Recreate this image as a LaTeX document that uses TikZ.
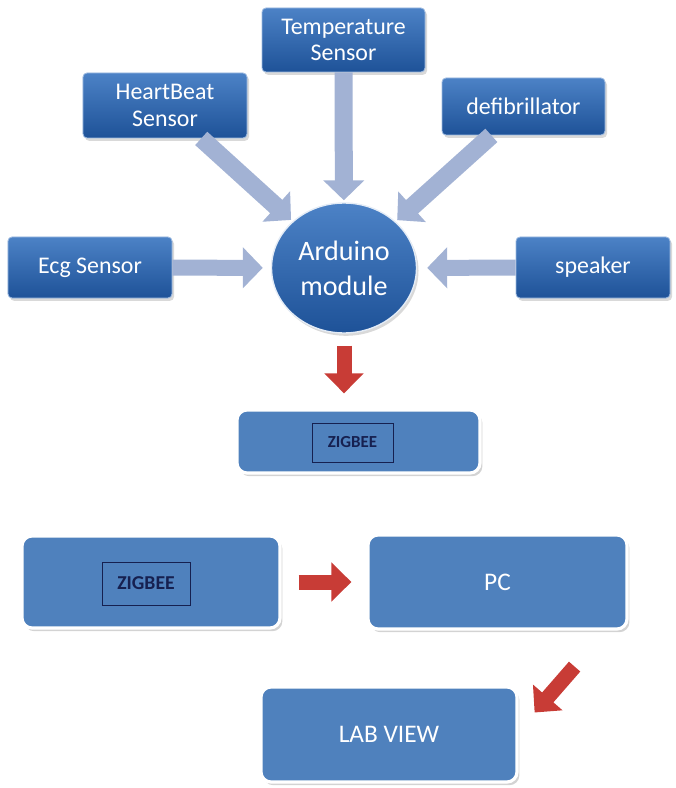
\documentclass[tikz,border=0pt]{standalone}
\usepackage{fontspec}
\setmainfont{Carlito}
\usetikzlibrary{arrows.meta,shapes.geometric,shadows}
\definecolor{boxtop}{RGB}{76,130,198}
\definecolor{boxbot}{RGB}{30,82,152}
\definecolor{flatblue}{RGB}{79,129,189}
\definecolor{arrowgray}{RGB}{162,178,212}
\definecolor{arrowred}{RGB}{200,60,54}
\definecolor{zigtext}{RGB}{22,32,80}

\begin{document}
\begin{tikzpicture}[x=0.25mm,y=-0.25mm]
\useasboundingbox (0,0) rectangle (676,788);

\begin{scope}[every node/.style={rectangle,rounded corners=1mm,top color=boxtop,bottom color=boxbot,
              draw=boxtop!55!white,line width=0.6pt,
              drop shadow={shadow xshift=0.5mm,shadow yshift=-0.7mm,opacity=0.3},
              text=white,align=center,font=\fontsize{17}{19}\selectfont}]
    \node (T)[minimum width=40.75mm,minimum height=16mm] at (343.5,40) {Temperature\\Sensor};
    \node (H)[minimum width=41mm,minimum height=16.25mm] at (165,105.5) {HeartBeat\\Sensor};
    \node (D)[minimum width=40.75mm,minimum height=14.25mm] at (523.5,106.5) {defibrillator};
    \node (E)[minimum width=41mm,minimum height=15.25mm] at (90,267.5) {Ecg Sensor};
    \node (S)[minimum width=38.5mm,minimum height=15.25mm] at (593,267.5) {speaker};
    \node (A)[ellipse,draw=white!85!boxtop,line width=1pt,minimum width=36.25mm,minimum height=32.5mm,
              font=\fontsize{20}{25}\selectfont] at (344,268) {Arduino\\module};
\end{scope}

\begin{scope}[every node/.style={rectangle,rounded corners=2.5mm,fill=flatblue,draw=white,line width=0.8mm,
              drop shadow={shadow xshift=0.6mm,shadow yshift=-0.8mm,opacity=0.35},
              text=white,font=\fontsize{18}{22}\selectfont}]
    \node (Z)[minimum width=60.75mm,minimum height=15.75mm] at (358.5,441.5) {};
    \node (Z2)[minimum width=64.5mm,minimum height=23mm] at (151,582) {};
    \node (PC)[minimum width=64.75mm,minimum height=23.5mm] at (497.5,582) {PC};
    \node (LV)[minimum width=64mm,minimum height=23.75mm] at (389,734.5) {LAB VIEW};
\end{scope}

\begin{scope}[every node/.style={rectangle,draw=zigtext,line width=0.6pt,fill=flatblue,text=zigtext}]
    \node (Zin)[minimum width=20.25mm,minimum height=9.75mm,font=\fontsize{12}{14}\selectfont\bfseries] at (352.5,442.5) {ZIGBEE};
    \node (Z2in)[minimum width=22mm,minimum height=10.75mm,font=\fontsize{14}{16}\selectfont\bfseries] at (146,583.5) {ZIGBEE};
\end{scope}

\begin{scope}[every edge/.style={draw=arrowgray,line width=4.5mm,-{Triangle[width=10mm,length=5mm]}}]
    \path (H) edge[shorten >=0.5mm] (A);
    \path (T) edge[shorten >=0.5mm] (A);
    \path (D) edge[shorten >=0.5mm] (A);
    \path (E) edge[line width=4mm,shorten >=2mm] (A);
    \path (S) edge[line width=4mm,shorten >=2.5mm] (A);
\end{scope}

\begin{scope}[every edge/.style={draw=arrowred,line width=3.75mm,-{Triangle[width=9.5mm,length=5mm]}}]
    \path (A.south) edge[shorten <=3mm,shorten >=3.75mm] (A.south |- Z.north);
    \path (Z2) edge[shorten <=4.25mm,shorten >=3.75mm] (PC);
    \path ([xshift=-13.5mm,yshift=-9mm]PC.south east) edge ([xshift=4mm,yshift=5.5mm]LV.east);
\end{scope}
\end{tikzpicture}
\end{document}
